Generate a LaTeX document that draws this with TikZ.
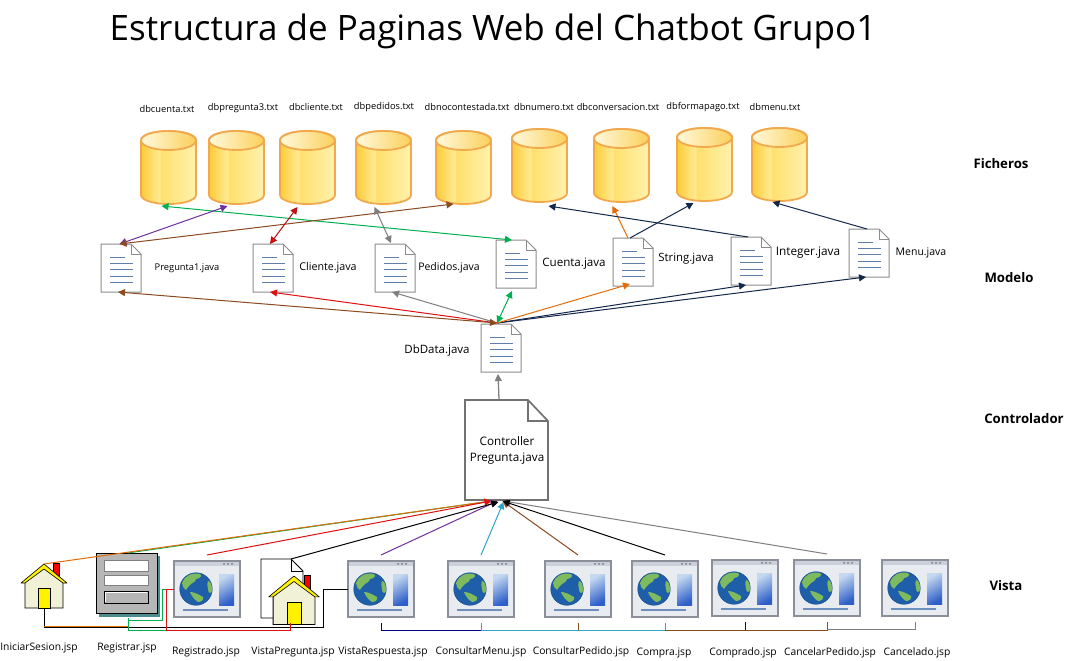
\documentclass[tikz,border=0pt]{standalone}
\usepackage{fontspec}
\setmainfont{Open Sans}
\usetikzlibrary{arrows.meta,calc,shapes.geometric}
\definecolor{cylstroke}{HTML}{F2A94E}
\definecolor{docgray}{HTML}{8C8C8C}
\definecolor{docline}{HTML}{5F7FA8}
\definecolor{cgreen}{HTML}{00B050}
\definecolor{cpurple}{HTML}{7030A0}
\definecolor{cbrown}{HTML}{8B4A20}
\definecolor{cred}{HTML}{E01010}
\definecolor{cgray}{HTML}{7F7F7F}
\definecolor{cnavy}{HTML}{14284B}
\definecolor{corange}{HTML}{E36C0A}
\definecolor{ccyan}{HTML}{31A5C8}
\definecolor{cblue}{HTML}{00008B}
\definecolor{globeblue}{HTML}{1F5EA8}
\definecolor{land}{HTML}{7DBB5E}
\definecolor{winframe}{HTML}{8A8F99}
\definecolor{winfill}{HTML}{E8ECF1}
\definecolor{winbar}{HTML}{CBD0DA}
\definecolor{panela}{HTML}{C4D8F0}
\definecolor{panelb}{HTML}{2E5FC8}
\definecolor{winline}{HTML}{6F8FBF}
\definecolor{hbody}{HTML}{F1F1D8}
\definecolor{hroof}{HTML}{FFF200}
\definecolor{formgray}{HTML}{B6B6B6}
\definecolor{formshadow}{HTML}{4C8C8C}
\definecolor{cyla}{HTML}{FBCB38}
\definecolor{cylb}{HTML}{FFEB94}
\definecolor{cylc}{HTML}{FFE06C}
\definecolor{cyld}{HTML}{FFF2AE}
\definecolor{cyle}{HTML}{FFF9DC}
\definecolor{cylf}{HTML}{FBD05A}
\pgfdeclarehorizontalshading{cylbody}{100bp}{
  color(0bp)=(cyla); color(25bp)=(cyla);
  color(42bp)=(cylb); color(42.5bp)=(cylc);
  color(75bp)=(cyld); color(100bp)=(cyld)}
\pgfdeclarehorizontalshading{cyltop}{100bp}{
  color(0bp)=(cyle); color(25bp)=(cyle);
  color(75bp)=(cylf); color(100bp)=(cylf)}
\tikzset{
  lblb/.style={inner sep=0pt,font=\fontsize{10.3}{12}\selectfont,text=black},
  lbl/.style={inner sep=0pt,font=\fontsize{#1}{12}\selectfont,text=black},
  lblsmall/.style={inner sep=0pt,font=\fontsize{9.3}{11}\selectfont,text=black},
  sect/.style={inner sep=0pt,font=\fontsize{13.2}{15}\selectfont\bfseries,text=black},
  conn/.style={line width=1pt},
  tip/.style={-{Triangle[length=7pt,width=7pt]}},
  biptip/.style={{Triangle[length=7pt,width=7pt]}-{Triangle[length=7pt,width=7pt]}},
  bus/.style={line width=0.8pt},
  ghost/.style={inner sep=0pt,outer sep=0pt,anchor=north west},
  cylinder icon/.pic={
    \path[shading=cylbody,draw=cylstroke,line width=1.8pt]
      (0,9) .. controls (0,4) and (12,0) .. (27.5,0) .. controls (43,0) and (55,4) .. (55,9)
      -- (55,64) .. controls (55,69) and (43,73) .. (27.5,73) .. controls (12,73) and (0,69) .. (0,64) -- cycle;
    \path[shading=cyltop,draw=cylstroke,line width=1.8pt] (27.5,9.5) ellipse [x radius=27.5,y radius=9.5];
    \node[ghost,minimum width=55pt,minimum height=73pt] (-b) at (0,0) {};
  },
  doc icon/.pic={
    \draw[docgray,fill=white,line width=1pt] (0,0) -- (30,0) -- (40,10) -- (40,48) -- (0,48) -- cycle;
    \draw[docgray,line width=0.7pt] (30,0) -- (30,10) -- (40,10);
    \draw[docline,line width=0.7pt] (9,13) -- (24,13) (9,19) -- (32,19) (9,32) -- (32,32) (9,38) -- (32,38);
    \draw[docline,line width=1pt] (9,25.5) -- (32,25.5);
    \node[ghost,minimum width=40pt,minimum height=48pt] (-b) at (0,0) {};
  },
  window icon/.pic={
    \draw[winframe,fill=winfill,line width=1.3pt] (0,0) rectangle (66,56);
    \fill[winbar] (0.6,0.6) rectangle (65.4,5);
    \fill[winframe] (49,2) rectangle (51,3.5) (53,2) rectangle (55,3.5) (57,2) rectangle (59,3.5);
    \shade[top color=panela,bottom color=panelb,shading angle=30] (45,13) rectangle (60,44);
    \fill[winline] (8.5,48) rectangle (54,49.5);
    \begin{scope}
      \clip (22,28) circle [radius=16.3];
      \fill[globeblue] (5,11) rectangle (39,45);
      \fill[land] (8,22) .. controls (10,15) and (18,11) .. (26,13) .. controls (29,15) and (25,18) .. (22,18)
        .. controls (21,22) and (19,21) .. (17,23) .. controls (15,26) and (13,26) .. (12,29)
        .. controls (10,28) and (8,25) .. (8,22) -- cycle;
      \fill[land] (16,31) .. controls (20,31) and (24,33) .. (29,36) .. controls (30,39) and (27,41) .. (24,41)
        .. controls (21,39) and (18,36) .. (16,31) -- cycle;
      \fill[land] (34,20) .. controls (36,20) and (39,24) .. (39,29) .. controls (37,34) and (34,32) .. (34,28)
        .. controls (33,25) and (33,22) .. (34,20) -- cycle;
    \end{scope}
    \draw[globeblue!80!black,line width=0.4pt] (22,28) circle [radius=16.3];
    \node[ghost,minimum width=66pt,minimum height=56pt] (-b) at (0,0) {};
    \coordinate (-top) at (33,-6);
    \coordinate (-bot) at (33,62);
  },
  house icon/.pic={
    \draw[black,fill=red,line width=0.6pt] (9,-1) rectangle (15,14);
    \draw[black,fill=hbody,line width=0.8pt] (-19,16) -- (0,4) -- (19,16) -- (19,44) -- (-19,44) -- cycle;
    \draw[black,fill=hroof,line width=0.6pt,line join=round] (-23,19) -- (0,0) -- (23,19) -- (19,19) -- (0,5) -- (-19,19) -- cycle;
    \draw[black,fill=hroof,line width=0.7pt] (-6,24) rectangle (6.5,44);
    \node[inner sep=0pt,outer sep=0pt,minimum width=38pt,minimum height=34pt] (-b) at (0,27) {};
    \coordinate (-top) at (0,0);
    \coordinate (-bot) at (0,44);
  },
}
\begin{document}
\begin{tikzpicture}[x=1pt,y=-1pt]
\useasboundingbox (0,0) rectangle (1077,661);
\fill[white] (0,0) rectangle (1077,661);

\node[inner sep=0pt,font=\fontsize{35}{40}\selectfont] (title) at (493,31) {Estructura de Paginas Web del Chatbot Grupo1};

% cylinders
\pic (c1) at (141,131) {cylinder icon};
\pic (c2) at (209,131) {cylinder icon};
\pic (c3) at (280,131) {cylinder icon};
\pic (c4) at (356,131) {cylinder icon};
\pic (c5) at (436,131) {cylinder icon};
\pic (c6) at (512,129) {cylinder icon};
\pic (c7) at (594,129) {cylinder icon};
\pic (c8) at (677,128) {cylinder icon};
\pic (c9) at (752,128) {cylinder icon};

\node[lblsmall] (lc1) at (167,109) {dbcuenta.txt};
\node[lblsmall] (lc2) at (243,108) {dbpregunta3.txt};
\node[lblsmall] (lc3) at (316,107) {dbcliente.txt};
\node[lblsmall] (lc4) at (384,107) {dbpedidos.txt};
\node[lblsmall] (lc5) at (467,107) {dbnocontestada.txt};
\node[lblsmall] (lc6) at (544,107) {dbnumero.txt};
\node[lblsmall] (lc7) at (618,107) {dbconversacion.txt};
\node[lblsmall] (lc8) at (703,107) {dbformapago.txt};
\node[lblsmall] (lc9) at (775,107) {dbmenu.txt};

% documents
\pic (d1) at (101,244) {doc icon};
\pic (d2) at (253,244) {doc icon};
\pic (d3) at (375,244) {doc icon};
\pic (d4) at (496,240) {doc icon};
\pic (d5) at (613,238) {doc icon};
\pic (d6) at (731,237) {doc icon};
\pic (d7) at (849,229) {doc icon};
\pic (dd) at (481,324) {doc icon};

\node[lblsmall] (ld1) at (187,268) {Pregunta1.java};
\node[lbl=10.7] (ld2) at (328,268) {Cliente.java};
\node[lbl=10.5] (ld3) at (449,268) {Pedidos.java};
\node[lbl=11.6] (ld4) at (574,264) {Cuenta.java};
\node[lbl=11.4] (ld5) at (686,259) {String.java};
\node[lbl=11.8] (ld6) at (808,253) {Integer.java};
\node[lbl=10.5] (ld7) at (921,253) {Menu.java};
\node[lbl=11.5] (ldd) at (437,351) {DbData.java};

% controller
\node[ghost,minimum width=83pt,minimum height=100pt] (ctrl) at (465,400) {};
\draw[cgray!90!black,fill=white,line width=1.7pt,line join=miter] (465,400) -- (528,400) -- (548,421) -- (548,500) -- (465,500) -- cycle;
\draw[cgray!90!black,line width=1.7pt] (528,400) -- (528,421) -- (548,421);
\node[align=center,inner sep=0pt,font=\fontsize{11.7}{16}\selectfont] (ctrltext) at (507,450) {Controller\\Pregunta.java};

% section labels
\node[sect] (s1) at (1001,164) {Ficheros};
\node[sect] (s2) at (1009,278) {Modelo};
\node[sect] (s3) at (1024,419) {Controlador};
\node[sect] (s4) at (1006,586) {Vista};

% top connectors
\coordinate (c1in) at ($(c1-b.south)+(-7,2)$);
\coordinate (c2in) at ($(c2-b.south)+(-9,2)$);
\coordinate (c3in) at ($(c3-b.south)+(-10,3)$);
\coordinate (c4in) at ($(c4-b.south)+(-9,3)$);
\coordinate (c5in) at ($(c5-b.south)+(-10,0)$);
\coordinate (c6in) at ($(c6-b.south)+(9,4)$);
\coordinate (c7in) at ($(c7-b.south)+(-9,4)$);
\coordinate (c8in) at ($(c8-b.south)+(-11,2)$);
\coordinate (c9in) at ($(c9-b.south)+(-7,1)$);
\coordinate (d1t) at ($(d1-b.north)+(-1.5,0)$);
\coordinate (d2t) at ($(d2-b.north)+(-3,0)$);
\coordinate (d3t) at ($(d3-b.north)+(-4,-1)$);
\coordinate (d4t) at ($(d4-b.north)+(-4,0)$);
\coordinate (d5ta) at ($(d5-b.north)+(-5,0)$);
\coordinate (d5tb) at ($(d5-b.north)+(-3,0)$);
\coordinate (d6t) at ($(d6-b.north)+(-3,0)$);
\coordinate (d7t) at ($(d7-b.north)+(-2,0)$);

\draw[conn,biptip,cgreen] (c1in) -- (d4t);
\draw[conn,biptip,cpurple] (c2in) -- (d1t);
\draw[conn,biptip,cbrown] (c5in) -- (d1t);
\draw[conn,biptip,cred!80!black,{Triangle[length=7pt,width=7pt,fill=cred]}-{Triangle[length=7pt,width=7pt,fill=cred]}] (c3in) -- (d2t);
\draw[conn,biptip,cgray] (c4in) -- (d3t);
\draw[conn,tip,corange] (d5ta) -- (c7in);
\draw[conn,tip,cnavy] (d5tb) -- (c8in);
\draw[conn,tip,cnavy] (d6t) -- (c6in);
\draw[conn,tip,cnavy] (d7t) -- (c9in);

% DbData connectors
\coordinate (ddhub) at ($(dd-b.north)+(-4,-1)$);
\coordinate (d1s) at ($(d1-b.south)+(-3,0)$);
\coordinate (d2s) at ($(d2-b.south)+(-3,0)$);
\coordinate (d3s) at ($(d3-b.south)+(-3,0)$);
\coordinate (d4s) at ($(d4-b.south)+(-4,3)$);
\coordinate (d5s) at ($(d5-b.south)+(-3,-2)$);
\coordinate (d6s) at ($(d6-b.south)+(-5,0)$);
\coordinate (d7s) at ($(d7-b.south)+(-3,0)$);
\draw[conn,tip,cnavy] (ddhub) -- (d6s);
\draw[conn,tip,cnavy] (ddhub) -- (d7s);
\draw[conn,tip,cgray] (ddhub) -- (d3s);
\draw[conn,tip,cred] (ddhub) -- (d2s);
\draw[conn,tip,corange] (ddhub) -- (d5s);
\draw[conn,biptip,cgreen] (ddhub) -- (d4s);
\draw[conn,biptip,cbrown] (d1s) -- (ddhub);
\draw[line width=1.3pt,tip,cgray] (ctrl.north) ++(-7.5,-1) coordinate (ctrlt) -- ($(dd-b.south)+(-3,2)$);

% vista icons
\pic (h1) at (44,564) {house icon};
\fill[formshadow] (99,556) rectangle (160,617);
\draw[black,fill=formgray,line width=0.9pt] (96,553) rectangle (157,613);
\node[ghost,minimum width=61pt,minimum height=60pt] (form) at (96,553) {};
\draw[gray,fill=white,line width=0.9pt] (104,560) rectangle (148,571);
\draw[gray,fill=white,line width=0.9pt] (104,575) rectangle (148,585);
\draw[black,fill=formgray,line width=0.9pt] (104,591) rectangle (148,603);
\draw[white,line width=0.7pt] (105,602) -- (105,592) -- (147,592);
\pic (w3) at (174,561) {window icon};
\node[ghost,minimum width=42pt,minimum height=59pt] (vpdoc) at (261,559) {};
\draw[black,fill=white,line width=0.9pt] (261,559) -- (291,559) -- (303,571) -- (303,618) -- (261,618) -- cycle;
\draw[black,line width=0.7pt] (291,559) -- (291,571) -- (303,571);
\pic[scale=1.1] (h2) at (294,576) {house icon};
\pic (w5) at (348,561) {window icon};
\pic (w6) at (448,561) {window icon};
\pic (w7) at (545,561) {window icon};
\pic (w8) at (632,561) {window icon};
\pic (w9) at (712,560) {window icon};
\pic (w10) at (794,560) {window icon};
\pic (w11) at (882,560) {window icon};

\node[lblb] (lv1) at (39,648) {IniciarSesion.jsp};
\node[lblb] (lv2) at (127,648) {Registrar.jsp};
\node[lblb] (lv3) at (206,652) {Registrado.jsp};
\node[lblb] (lv4) at (293,652) {VistaPregunta.jsp};
\node[lblb] (lv5) at (383,652) {VistaRespuesta.jsp};
\node[lblb] (lv6) at (481,652) {ConsultarMenu.jsp};
\node[lblb] (lv7) at (581,652) {ConsultarPedido.jsp};
\node[lblb] (lv8) at (664,653) {Compra.jsp};
\node[lblb] (lv9) at (743,653) {Comprado.jsp};
\node[lblb] (lv10) at (830,653) {CancelarPedido.jsp};
\node[lblb] (lv11) at (917,653) {Cancelado.jsp};

% connectors to the controller
\coordinate (cA) at ($(ctrl.south)+(-15,1)$);
\coordinate (cB) at ($(ctrl.south)+(-9,1)$);
\coordinate (cC) at ($(ctrl.south)+(-8,2)$);
\coordinate (cD) at ($(ctrl.south)+(-3,2)$);
\coordinate (cE) at ($(ctrl.south)+(-4,1)$);
\coordinate (cF) at ($(ctrl.south)+(-3,1)$);
\coordinate (formtop) at ($(form.north)+(1,0)$);
\coordinate (formbot) at ($(form.south)+(1.5,5)$);
\coordinate (w3top) at ($(w3-b.north)+(-0,-6)$);
\coordinate (vptop) at ($(vpdoc.north)+(9,0)$);
\coordinate (h2bot) at ($(h2-top)+(-4,47)$);
\draw[conn,cgreen] (formtop) -- (cA);
\draw[conn,tip,corange] (h1-top) -- (cA);
\draw[conn,tip,cred] (w3top) -- (cA);
\draw[conn,tip,cpurple] (w5-top) -- (cB);
\draw[conn,tip,cgray] (w10-top) -- (cF);
\draw[conn,tip,cbrown] (w7-top) -- (cE);
\draw[conn,tip,ccyan] (w6-top) -- (cD);
\draw[conn,tip,black] (w8-top) -- (cE);
\draw[conn,tip,black] (vptop) -- (cC);

% buses
\draw[bus,black] (h1-bot) -- (44,627) -- (323,627) -- (323,589) -- (w5-b.west);
\draw[bus,corange] (44,626) -- (128,626) -- (formbot);
\draw[bus,cgreen] (formbot) -- (128,630) -- (166,630);
\draw[bus,cgreen] (128,620) -- (162,620) -- (162,589) -- (w3-b.west);
\draw[bus,cred] (w3-b.west) -- (166,589) -- (166,630) -- (290,630) -- (h2bot);
\draw[bus,cblue] (w5-bot) -- (381,630) -- (481,630);
\draw[bus,ccyan] (481,630) -- (665,630) -- (w8-bot);
\draw[bus,ccyan] (481,630) -- (w6-bot);
\draw[bus,cbrown] (578,630) -- (w7-bot);
\draw[bus,cbrown] (665,630) -- (827,630) -- (w10-bot);
\draw[bus,cblue] (745,630) -- (w9-bot);
\draw[bus,cgray] (827,629) -- (915,629) -- (w11-bot);
\end{tikzpicture}
\end{document}
